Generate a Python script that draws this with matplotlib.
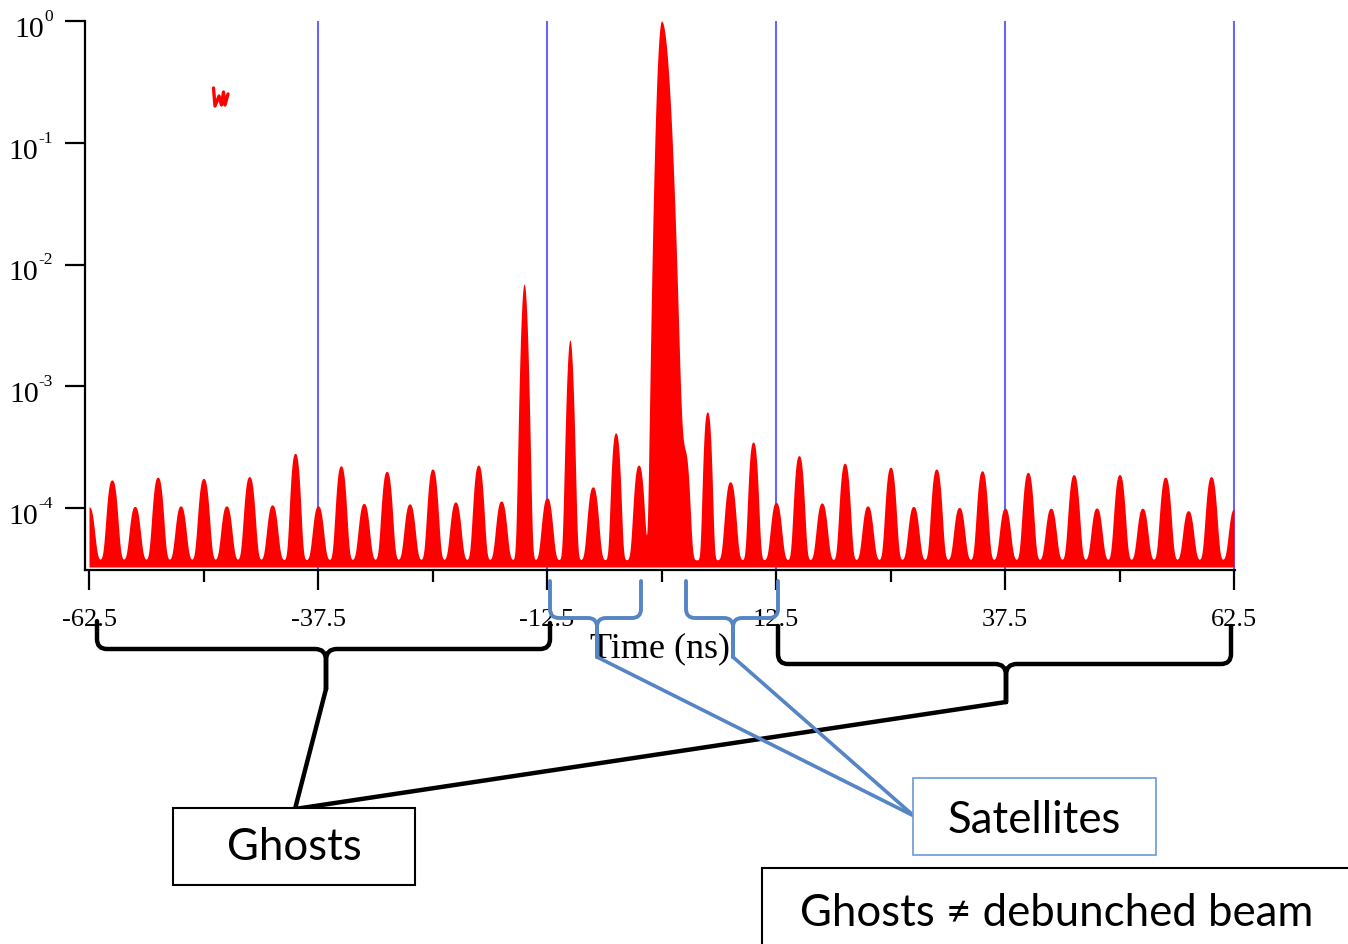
import numpy as np
import matplotlib
matplotlib.use("Agg")
import matplotlib.pyplot as plt
from matplotlib.path import Path
from matplotlib.patches import PathPatch, Rectangle
from matplotlib.lines import Line2D
from matplotlib.transforms import Affine2D
from matplotlib.ticker import FixedLocator, NullLocator

# ---------------- data ----------------
bucket_times = np.arange(-62.5, 62.5 + 0.01, 2.5)          # ns, one slot every 2.5 ns
peak_tops = [
    1.02e-4, 1.70e-4, 1.03e-4, 1.79e-4, 1.04e-4, 1.75e-4, 1.04e-4, 1.81e-4, 1.06e-4, 2.81e-4,
    1.04e-4, 2.22e-4, 1.09e-4, 2.00e-4, 1.08e-4, 2.09e-4, 1.12e-4, 2.25e-4, 1.14e-4, 6.92e-3,
    1.21e-4, 2.40e-3, 1.49e-4, 4.13e-4, 2.25e-4, 1.00e+0, 2.88e-4, 6.15e-4, 1.64e-4, 3.48e-4,
    1.11e-4, 2.69e-4, 1.10e-4, 2.33e-4, 1.04e-4, 2.16e-4, 1.03e-4, 2.09e-4, 1.01e-4, 2.02e-4,
    9.95e-5, 1.96e-4, 9.95e-5, 1.88e-4, 1.00e-4, 1.88e-4, 9.95e-5, 1.79e-4, 9.50e-5, 1.81e-4,
    9.80e-5,
]
noise_floor = 3.75e-5
marker_times = [-37.5, -12.5, 12.5, 37.5, 62.5]
xtick_major = [-62.5, -37.5, -12.5, 12.5, 37.5, 62.5]
xtick_labels = ["-62.5", "-37.5", "-12.5", "12.5", "37.5", "62.5"]
xtick_minor = [-50, -25, 0, 25, 50]
ytick_vals = [1e-4, 1e-3, 1e-2, 1e-1, 1e0]
ytick_exps = ["-4", "-3", "-2", "-1", "0"]
xlabel = "Time (ns)"

# ---------------- style ----------------
plt.rcParams["font.family"] = ["Liberation Serif", "DejaVu Serif"]

W, H = 1348, 945
fig = plt.figure(figsize=(W / 100, H / 100), dpi=100)
fig.patch.set_facecolor("white")

px_per_ns = (1234 - 89) / 125.0
ax_left, ax_right, ax_top, ax_bot = 85, 1235, 22, 571
ax = fig.add_axes([ax_left / W, 1 - ax_bot / H, (ax_right - ax_left) / W, (ax_bot - ax_top) / H])

dec = 121.75  # px per decade
y_bottom = 10 ** (-(ax_bot - ax_top) / dec)
fill_bottom = 10 ** (-(568 - ax_top) / dec)

# build trace from peak heights (pulse shape per bucket)
t = np.linspace(-62.5, 62.5, 12501)
signal = np.full_like(t, noise_floor)
for tc, top in zip(bucket_times, peak_tops):
    amp = top - noise_floor
    if top > 0.5:
        s = np.where(t < tc, 0.34, 0.55)
        p = 2.0
    elif top > 1e-3:
        s, p = 0.27, 2.0
    else:
        s = float(np.clip(0.47 * (top / 2e-4) ** -0.25, 0.32, 0.49))
        p = 2.6
    signal += amp * np.exp(-0.5 * np.abs((t - tc) / s) ** p)

for xm in marker_times:
    ax.axvline(xm, color="#6666ff", lw=1.5, zorder=1)
ax.fill_between(t, fill_bottom, signal, color="#ff0000", linewidth=0, zorder=2)

ax.set_yscale("log")
ax.set_xlim(-62.5 - (89 - ax_left) / px_per_ns, 62.5 + 1 / px_per_ns)
ax.set_ylim(y_bottom, 1.0)

for sname in ["top", "right"]:
    ax.spines[sname].set_visible(False)
for sname in ["left", "bottom"]:
    ax.spines[sname].set_linewidth(1.6)
    ax.spines[sname].set_zorder(5)

ax.set_xticks(xtick_major)
ax.set_xticklabels(xtick_labels)
ax.xaxis.set_minor_locator(FixedLocator(xtick_minor))
ax.tick_params(axis="x", which="major", length=14.4, width=1.6, direction="out", pad=13, labelsize=19)
ax.tick_params(axis="x", which="minor", length=8.6, width=1.6, direction="out")
ax.set_yticks(ytick_vals)
ax.set_yticklabels([])
ax.yaxis.set_minor_locator(NullLocator())
ax.tick_params(axis="y", which="major", length=14.4, width=1.6, direction="out")
ax.set_facecolor("none")

# pixel transform (origin top-left)
T = Affine2D().scale(1 / W, -1 / H).translate(0, 1) + fig.transFigure
renderer = fig.canvas.get_renderer()

# y tick labels as 10 with raised exponent
for val, ex in zip(ytick_vals, ytick_exps):
    ypix = H - ax.transData.transform((0, val))[1]
    sup = fig.text(53 / W, 1 - (ypix - 1) / H, ex, ha="right", va="baseline", fontsize=12.5)
    bb = sup.get_window_extent(renderer)
    fig.text(bb.x0 / W, 1 - (ypix + 15) / H, "10", ha="right", va="baseline", fontsize=21.5)

fig.text(660 / W, 1 - 657 / H, xlabel, ha="center", va="baseline", fontsize=26)

# small red squiggle
sq = [(213.5, 89), (215, 107), (219, 97), (221.5, 106), (223.5, 93), (225, 106), (228, 95)]
fig.add_artist(Line2D([q[0] for q in sq], [q[1] for q in sq], transform=T, color="#ff0000",
                      lw=2.4, solid_joinstyle="round", solid_capstyle="round"))


def brace(xl, xr, ytop_l, ytop_r, ymid, xc, ytip, r_end, r_mid, color, lw):
    M, L, C = Path.MOVETO, Path.LINETO, Path.CURVE3
    verts = [(xl, ytop_l), (xl, ymid - r_end), (xl, ymid), (xl + r_end, ymid),
             (xc - r_mid, ymid), (xc, ymid), (xc, ymid + r_mid), (xc, ytip),
             (xr, ytop_r), (xr, ymid - r_end), (xr, ymid), (xr - r_end, ymid),
             (xc + r_mid, ymid), (xc, ymid), (xc, ymid + r_mid), (xc, ytip)]
    codes = [M, L, C, C, L, C, C, L] * 2
    fig.add_artist(PathPatch(Path(verts, codes), fill=False, edgecolor=color, lw=lw,
                             capstyle="round", joinstyle="round", transform=T, zorder=6))


def seg(p0, p1, color, lw):
    fig.add_artist(Line2D([p0[0], p1[0]], [p0[1], p1[1]], transform=T, color=color, lw=lw,
                          solid_capstyle="round", zorder=6))


BLK = "#000000"
BLU = "#5585c5"

brace(97, 550, 622, 624, 650, 326, 690, 10, 11, BLK, 3.2)
brace(778, 1231, 627, 627, 665, 1006, 703, 10, 11, BLK, 3.2)
seg((326, 690), (295, 810), BLK, 3.2)
seg((1006, 703), (295, 810), BLK, 3.2)

brace(550, 641, 582, 582, 619, 597, 658, 9, 9, BLU, 2.8)
brace(686, 778, 582, 582, 619, 733, 658, 9, 9, BLU, 2.8)
seg((597, 658), (914, 817), BLU, 2.6)
seg((733, 658), (914, 817), BLU, 2.6)

# boxes
def box(x0, y0, x1, y1, ec, lw):
    fig.add_artist(Rectangle((x0, y1), x1 - x0, y0 - y1, transform=T, facecolor="white",
                             edgecolor=ec, lw=lw, zorder=7))

box(173, 809, 415, 886, BLK, 1.5)
box(913, 779, 1156, 856, "#6a9ad8", 1.2)
box(762, 869, 1365, 960, BLK, 1.5)

sans = ["Lato", "DejaVu Sans"]
fig.text(294 / W, 1 - 860 / H, "Ghosts", ha="center", va="baseline", fontsize=31.5, family=sans, zorder=8)
fig.text(1034 / W, 1 - 833 / H, "Satellites", ha="center", va="baseline", fontsize=31.5, family=sans, zorder=8)
fig.text(1057 / W, 1 - 926 / H, "Ghosts \u2260 debunched beam", ha="center", va="baseline",
         fontsize=31.5, family=sans, zorder=8)

fig.savefig("out.png", dpi=100)
